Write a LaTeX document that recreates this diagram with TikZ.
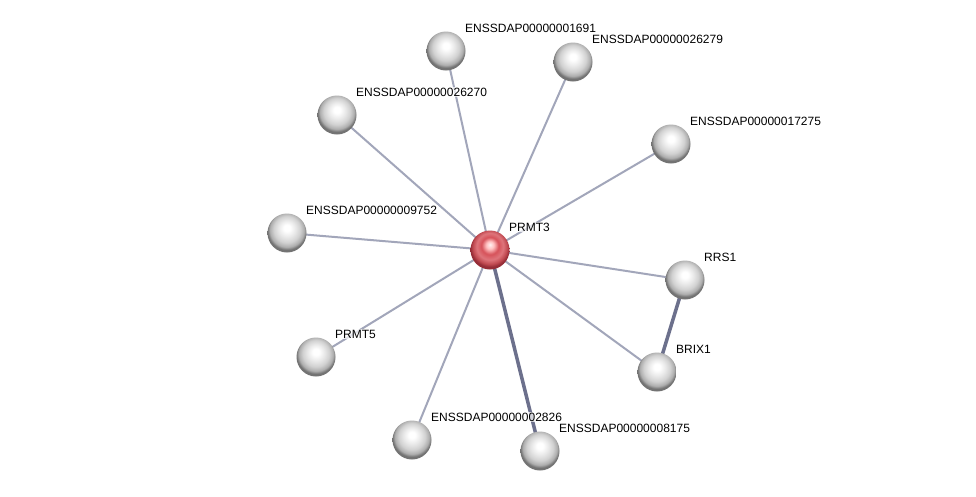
\documentclass[tikz,border=0pt]{standalone}
\usepackage{fontspec}
\setmainfont{Liberation Sans}
\definecolor{weakc}{RGB}{162,166,186}
\definecolor{strongc}{RGB}{108,112,140}
\definecolor{redbody}{RGB}{214,82,90}
\definecolor{rededge}{RGB}{150,45,55}
\pgfdeclareradialshading{greyball}{\pgfqpoint{0bp}{7bp}}{color(0bp)=(white); color(4bp)=(white); color(11bp)=(black!9); color(17bp)=(black!18); color(22bp)=(black!32); color(25bp)=(black!55); color(50bp)=(black!55)}
\pgfdeclareradialshading{redball}{\pgfqpoint{0bp}{7bp}}{color(0bp)=(red!5!white); color(5bp)=(red!25!white); color(11bp)=(redbody); color(17bp)=(redbody!80!white); color(22bp)=(redbody!90!black); color(25bp)=(rededge); color(50bp)=(rededge)}
\begin{document}
\begin{tikzpicture}[x=1pt,y=-1pt,
  ballnode/.style={circle,minimum size=39pt,inner sep=0pt,shading=greyball},
  centernode/.style={circle,minimum size=39pt,inner sep=0pt,shading=redball},
  lbl/.style={anchor=west,font=\fontsize{12}{14}\selectfont,fill=white,fill opacity=0.7,text opacity=1,inner sep=1pt},
  weak/.style={draw=weakc,line width=2pt},
  strong/.style={draw=strongc,line width=3.5pt}]
\useasboundingbox (0,0) rectangle (976,496);
\fill[white] (0,0) rectangle (976,496);
% node coordinates
\coordinate (c) at (490,250);
\coordinate (a1) at (446,51);
\coordinate (a2) at (573,62);
\coordinate (a3) at (337,115);
\coordinate (a4) at (671,144);
\coordinate (a5) at (287,233);
\coordinate (a6) at (685,280);
\coordinate (a7) at (657,372);
\coordinate (a8) at (316,357);
\coordinate (a9) at (412,440);
\coordinate (a10) at (540,451);
% edges
\draw[weak] (c) -- (a1);
\draw[weak] (c) -- (a2);
\draw[weak] (c) -- (a3);
\draw[weak] (c) -- (a4);
\draw[weak] (c) -- (a5);
\draw[weak] (c) -- (a6);
\draw[weak] (c) -- (a7);
\draw[weak] (c) -- (a8);
\draw[weak] (c) -- (a9);
\draw[strong] (c) -- (a10);
\draw[strong] (a6) -- (a7);
% nodes
\node[centernode] (n0) at (c) {};
\node[ballnode] (n1) at (a1) {};
\node[ballnode] (n2) at (a2) {};
\node[ballnode] (n3) at (a3) {};
\node[ballnode] (n4) at (a4) {};
\node[ballnode] (n5) at (a5) {};
\node[ballnode] (n6) at (a6) {};
\node[ballnode] (n7) at (a7) {};
\node[ballnode] (n8) at (a8) {};
\node[ballnode] (n9) at (a9) {};
\node[ballnode] (n10) at (a10) {};
% labels
\node[lbl] (l0) at ([shift={(18,-23)}]c) {PRMT3};
\node[lbl] (l1) at ([shift={(18,-23)}]a1) {ENSSDAP00000001691};
\node[lbl] (l2) at ([shift={(18,-23)}]a2) {ENSSDAP00000026279};
\node[lbl] (l3) at ([shift={(18,-23)}]a3) {ENSSDAP00000026270};
\node[lbl] (l4) at ([shift={(18,-23)}]a4) {ENSSDAP00000017275};
\node[lbl] (l5) at ([shift={(18,-23)}]a5) {ENSSDAP00000009752};
\node[lbl] (l6) at ([shift={(18,-23)}]a6) {RRS1};
\node[lbl] (l7) at ([shift={(18,-23)}]a7) {BRIX1};
\node[lbl] (l8) at ([shift={(18,-23)}]a8) {PRMT5};
\node[lbl] (l9) at ([shift={(18,-23)}]a9) {ENSSDAP00000002826};
\node[lbl] (l10) at ([shift={(18,-23)}]a10) {ENSSDAP00000008175};
\end{tikzpicture}
\end{document}
